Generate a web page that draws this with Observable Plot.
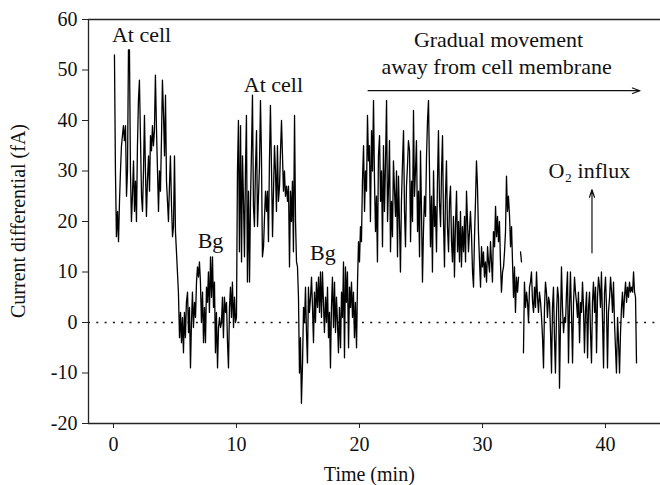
<!DOCTYPE html>
<html><head><meta charset="utf-8">
<script src="https://cdn.jsdelivr.net/npm/d3@7"></script>
<script src="https://cdn.jsdelivr.net/npm/@observablehq/plot@0.6"></script>
<style>body{margin:0;background:#fff}</style>
</head><body><div id="chart"></div>
<script>
// Time (min)
const time = [
0.08,0.16,0.24,0.33,0.41,0.49,0.57,0.65,0.73,0.81,
0.89,0.98,1.06,1.14,1.22,1.30,1.38,1.46,1.54,1.63,
1.71,1.79,1.87,1.95,2.03,2.11,2.20,2.28,2.36,2.44,
2.52,2.60,2.68,2.76,2.85,2.93,3.01,3.09,3.17,3.25,
3.33,3.41,3.50,3.58,3.66,3.74,3.82,3.90,3.98,4.07,
4.15,4.23,4.31,4.39,4.47,4.55,4.63,4.72,4.80,4.88,
4.96,5.04,5.12,5.20,5.28,5.37,5.45,5.53,5.61,5.69,
5.77,5.85,5.93,6.02,6.10,6.18,6.26,6.34,6.42,6.50,
6.59,6.67,6.75,6.83,6.91,6.99,7.07,7.15,7.24,7.32,
7.40,7.48,7.56,7.64,7.72,7.80,7.89,7.97,8.05,8.13,
8.21,8.29,8.37,8.46,8.54,8.62,8.70,8.78,8.86,8.94,
9.02,9.11,9.19,9.27,9.35,9.43,9.51,9.59,9.67,9.76,
9.84,9.92,10.00,10.08,10.16,10.24,10.33,10.41,10.49,10.57,
10.65,10.73,10.81,10.89,10.98,11.06,11.14,11.22,11.30,11.38,
11.46,11.54,11.63,11.71,11.79,11.87,11.95,12.03,12.11,12.20,
12.28,12.36,12.44,12.52,12.60,12.68,12.76,12.85,12.93,13.01,
13.09,13.17,13.25,13.33,13.41,13.50,13.58,13.66,13.74,13.82,
13.90,13.98,14.07,14.15,14.23,14.31,14.39,14.47,14.55,14.63,
14.72,14.80,14.88,14.96,15.04,15.12,15.20,15.28,15.37,15.45,
15.53,15.61,15.69,15.77,15.85,15.93,16.02,16.10,16.18,16.26,
16.34,16.42,16.50,16.59,16.67,16.75,16.83,16.91,16.99,17.07,
17.15,17.24,17.32,17.40,17.48,17.56,17.64,17.72,17.80,17.89,
17.97,18.05,18.13,18.21,18.29,18.37,18.46,18.54,18.62,18.70,
18.78,18.86,18.94,19.02,19.11,19.19,19.27,19.35,19.43,19.51,
19.59,19.67,19.76,19.84,19.92,20.00,20.08,20.16,20.24,20.33,
20.41,20.49,20.57,20.65,20.73,20.81,20.89,20.98,21.06,21.14,
21.22,21.30,21.38,21.46,21.54,21.63,21.71,21.79,21.87,21.95,
22.03,22.11,22.20,22.28,22.36,22.44,22.52,22.60,22.68,22.76,
22.85,22.93,23.01,23.09,23.17,23.25,23.33,23.41,23.50,23.58,
23.66,23.74,23.82,23.90,23.98,24.07,24.15,24.23,24.31,24.39,
24.47,24.55,24.63,24.72,24.80,24.88,24.96,25.04,25.12,25.20,
25.28,25.37,25.45,25.53,25.61,25.69,25.77,25.85,25.93,26.02,
26.10,26.18,26.26,26.34,26.42,26.50,26.59,26.67,26.75,26.83,
26.91,26.99,27.07,27.15,27.24,27.32,27.40,27.48,27.56,27.64,
27.72,27.80,27.89,27.97,28.05,28.13,28.21,28.29,28.37,28.46,
28.54,28.62,28.70,28.78,28.86,28.94,29.02,29.11,29.19,29.27,
29.35,29.43,29.51,29.59,29.67,29.76,29.84,29.92,30.00,30.08,
30.16,30.24,30.33,30.41,30.49,30.57,30.65,30.73,30.81,30.89,
30.98,31.06,31.14,31.22,31.30,31.38,31.46,31.54,31.63,31.71,
31.79,31.87,31.95,32.03,32.11,32.20,32.28,32.36,32.44,32.52,
32.60,32.68,32.76,32.85,32.93,33.01,33.09,33.17,33.25,33.33,
33.41,33.50,33.58,33.66,33.74,33.82,33.90,33.98,34.07,34.15,
34.23,34.31,34.39,34.47,34.55,34.63,34.72,34.80,34.88,34.96,
35.04,35.12,35.20,35.28,35.37,35.45,35.53,35.61,35.69,35.77,
35.85,35.93,36.02,36.10,36.18,36.26,36.34,36.42,36.50,36.59,
36.67,36.75,36.83,36.91,36.99,37.07,37.15,37.24,37.32,37.40,
37.48,37.56,37.64,37.72,37.80,37.89,37.97,38.05,38.13,38.21,
38.29,38.37,38.46,38.54,38.62,38.70,38.78,38.86,38.94,39.02,
39.11,39.19,39.27,39.35,39.43,39.51,39.59,39.67,39.76,39.84,
39.92,40.00,40.08,40.16,40.24,40.33,40.41,40.49,40.57,40.65,
40.73,40.81,40.89,40.98,41.06,41.14,41.22,41.30,41.38,41.46,
41.54,41.63,41.71,41.79,41.87,41.95,42.03,42.11,42.20,42.28,
42.36,42.44,42.52
];
// Current differential (fA); NaN = gap in the recording
const current = [
53,30,17,22,16,24,30,35,37,39,
36,39,25,30,54,54,30,20,25,32,
22,28,20,35,44,48,36,25,22,30,
41,30,21,28,33,26,37,34,39,35,
38,49,38,30,22,30,26,36,48,41,
33,45,28,24,20,27,33,23,17,19,
33,18,14,10,6,-3,2,-4,1,-6,
2,-3,4,6,-2,3,-9,0,6,-1,
4,1,8,11,9,12,8,0,6,-4,
3,-4,7,4,10,2,13,5,13,3,
8,-6,2,-9,-1,1,-1,0,5,-3,
5,2,4,-4,-9,3,7,1,8,-1,
5,0,1,30,40,14,39,12,33,24,
13,30,41,8,26,8,24,34,45,23,
19,30,38,19,25,31,44,33,13,15,
21,26,22,26,16,32,43,30,17,26,
35,30,22,35,24,27,34,40,33,26,
30,25,27,24,27,11,26,20,28,14,
41,20,12,11,5,-10,-3,-16,-8,3,
0,7,-2,-8,7,2,5,9,3,-4,
6,0,8,3,9,2,10,1,10,4,
-2,5,0,7,-3,2,-9,3,9,-1,
8,-2,5,0,-6,3,-5,6,1,12,
-7,11,4,10,-5,7,3,8,1,6,
-3,4,-5,8,16,12,19,16,28,35,
22,30,26,41,32,35,20,38,30,44,
28,18,25,12,33,37,24,30,15,35,
22,31,44,20,27,36,14,24,17,32,
26,21,30,13,29,20,10,24,32,38,
22,15,27,31,36,34,16,28,20,42,
25,30,36,18,26,13,34,22,8,18,
25,21,33,40,44,30,15,25,10,30,
19,23,14,28,38,24,19,30,37,20,
11,25,32,19,14,24,27,16,12,21,
9,19,26,14,20,12,22,11,19,14,
21,12,26,20,14,18,22,17,10,7,
17,24,32,27,18,12,7,15,11,14,
9,12,8,15,12,10,16,12,8,18,
15,23,17,21,16,20,12,6,10,11,
14,18,29,22,25,21,15,19,12,5,
11,2,9,6,9,NaN,14,12,NaN,-6,
8,3,6,4,0,7,8,10,4,2,
7,3,10,5,2,6,4,1,-3,-9,
3,8,6,1,5,4,-2,-10,3,7,
-3,-10,2,7,5,-13,0,11,3,-2,
1,0,6,10,-8,3,10,1,-8,4,
9,6,4,1,6,-4,4,2,8,3,
-6,2,6,-7,3,6,-2,-8,4,8,
2,7,-6,5,9,7,3,10,0,-9,
6,9,3,-9,2,5,9,6,2,8,
0,-5,-10,1,-4,-10,-2,3,6,1,
5,8,4,7,5,8,6,7,6,10,
6,5,-8
];
const xTicks = [0, 10, 20, 30, 40];
const yTicks = [-20, -10, 0, 10, 20, 30, 40, 50, 60];
const labels = ["At cell", "Bg", "At cell", "Bg", "Gradual movement", "away from cell membrane", "O\u2082 influx"];
const xTitle = "Time (min)";
const yTitle = "Current differential (fA)";

const data = time.map((t, i) => ({t, v: current[i]}));
const xDomain = [-2.03, 44.47];
const ink = "#111";
const note = (txt, x, y, anchor = "middle") =>
  Plot.text([txt], {x: () => x, y: () => y, text: d => d, textAnchor: anchor, lineAnchor: "bottom", fontSize: 22, fill: ink});

const chart = Plot.plot({
  width: 660, height: 485,
  marginLeft: 88, marginRight: 0, marginTop: 19, marginBottom: 62,
  style: {fontFamily: "'Liberation Serif', 'Times New Roman', serif", fontSize: "20px", color: ink, background: "#fff", overflow: "visible"},
  x: {domain: xDomain},
  y: {domain: [-20, 60]},
  marks: [
    Plot.ruleY([0], {stroke: ink, strokeWidth: 1.6, strokeDasharray: "2,6.3"}),
    Plot.line(data, {x: "t", y: "v", stroke: "#000", strokeWidth: 1.3}),
    Plot.ruleX([xDomain[0]], {stroke: "#222", strokeWidth: 1.3}),
    Plot.ruleY([-20, 60], {stroke: "#222", strokeWidth: 1.3}),
    Plot.axisX(xTicks, {tickSize: 5, tickPadding: 8, label: null, fontSize: 20, stroke: "#222"}),
    Plot.axisY(yTicks, {tickSize: 6, tickPadding: 5, label: null, fontSize: 20, tickFormat: d => String(d), stroke: "#222"}),
    Plot.text([xTitle], {x: () => 20.8, y: () => -31.3, text: d => d, lineAnchor: "bottom", fontSize: 20, fill: ink}),
    Plot.text([yTitle], {x: () => -7.7, y: () => 20.1, text: d => d, rotate: -90, lineAnchor: "middle", fontSize: 20, fill: ink}),
    note(labels[0], 2.28, 55.6),
    note(labels[1], 7.89, 14.8),
    note(labels[2], 13.0, 45.7),
    note(labels[3], 17.03, 12.4),
    note(labels[4], 31.3, 54.5),
    note(labels[5], 31.14, 49.2),
    note(labels[6], 35.37, 28.6, "start"),
    Plot.arrow([0], {x1: () => 20.7, y1: () => 45.9, x2: () => 42.8, y2: () => 45.9, stroke: ink, strokeWidth: 1.2, headLength: 10, headAngle: 40}),
    Plot.arrow([0], {x1: () => 38.9, y1: () => 13.8, x2: () => 38.9, y2: () => 26.3, stroke: ink, strokeWidth: 1.2, headLength: 10, headAngle: 36})
  ]
});
document.getElementById("chart").appendChild(chart);
</script>
</body></html>
